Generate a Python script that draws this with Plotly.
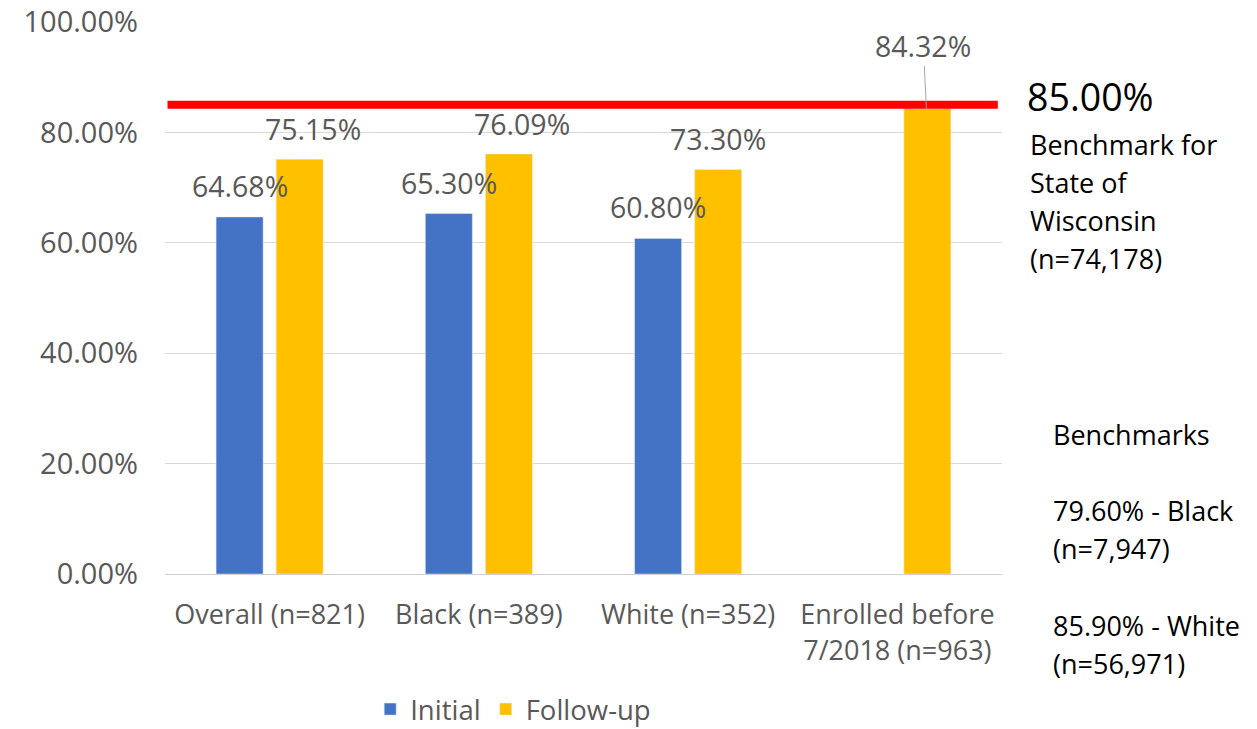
import plotly.graph_objects as go

# Categories and series values (percent)
categories = ["Overall (n=821)", "Black (n=389)", "White (n=352)", "Enrolled before<br>7/2018 (n=963)"]
initial = [64.68, 65.30, 60.80, None]
follow_up = [75.15, 76.09, 73.30, 84.32]
state_benchmark = 85.00
y_ticks = [0, 20, 40, 60, 80, 100]
y_tick_labels = ["0.00%", "20.00%", "40.00%", "60.00%", "80.00%", "100.00%"]

side_title = ["Benchmark for", "State of", "Wisconsin", "(n=74,178)"]
side_notes = ["Benchmarks", "", "79.60% - Black", "(n=7,947)", "", "85.90% - White", "(n=56,971)"]

FONT = "Open Sans"
GRAY = "#595959"
BLUE = "#4472C4"
GOLD = "#FFC000"

fig = go.Figure()
fig.add_trace(go.Bar(name="Initial", x=categories, y=initial, marker_color=BLUE))
fig.add_trace(go.Bar(name="Follow-up", x=categories, y=follow_up, marker_color=GOLD))

# Value labels above the bars (custom offsets per label)
blue_dx = [0, 0, 0]
gold_dx = [13, 13, 0]
for i, v in enumerate(initial):
    if v is None:
        continue
    fig.add_annotation(x=categories[i], y=v, text=f"{v:.2f}%", showarrow=False,
                       xshift=-30 + blue_dx[i], yshift=31,
                       font=dict(family=FONT, size=28.5, color=GRAY))
for i, v in enumerate(follow_up):
    if i == 3:
        fig.add_annotation(x=categories[i], y=v, text=f"{v:.2f}%", showarrow=True,
                           arrowhead=0, arrowwidth=1, arrowcolor="#a6a6a6",
                           xshift=29, ax=-3, ay=-63,
                           font=dict(family=FONT, size=28.5, color=GRAY))
        continue
    fig.add_annotation(x=categories[i], y=v, text=f"{v:.2f}%", showarrow=False,
                       xshift=30 + gold_dx[i], yshift=30,
                       font=dict(family=FONT, size=28.5, color=GRAY))

# State benchmark line
fig.add_shape(type="line", xref="paper", yref="y", x0=0.003, x1=0.995,
              y0=state_benchmark, y1=state_benchmark,
              line=dict(color="#FF0000", width=8))

# Benchmark text on the right
fig.add_annotation(xref="paper", yref="paper", x=1.028, y=(574 - 96) / 552,
                   xanchor="left", yanchor="middle", showarrow=False,
                   text=f"{state_benchmark:.2f}%",
                   font=dict(family=FONT, size=37.5, color="black"))
for k, line in enumerate(side_title):
    fig.add_annotation(xref="paper", yref="paper", x=1.031, y=(574 - 144 - 38.2 * k) / 552,
                       xanchor="left", yanchor="middle", showarrow=False, text=line,
                       font=dict(family=FONT, size=27, color="black"))
for k, line in enumerate(side_notes):
    if not line:
        continue
    fig.add_annotation(xref="paper", yref="paper", x=1.059, y=(574 - 434 - 38.2 * k) / 552,
                       xanchor="left", yanchor="middle", showarrow=False, text=line,
                       font=dict(family=FONT, size=27, color="black"))

fig.update_layout(
    width=1257, height=729,
    margin=dict(l=165, r=255, t=22, b=155, autoexpand=False),
    paper_bgcolor="white", plot_bgcolor="white",
    barmode="group", bargap=0.426, bargroupgap=0.217,
    font=dict(family=FONT, color=GRAY),
    showlegend=True,
    legend=dict(orientation="h", x=0.416, xanchor="center", y=-0.245, yanchor="middle",
                font=dict(family=FONT, size=27.5, color=GRAY), itemwidth=30),
)
fig.update_yaxes(range=[0, 100], tickvals=y_ticks, ticktext=y_tick_labels,
                 showgrid=True, gridcolor="#d9d9d9", gridwidth=1, automargin=False,
                 zeroline=False, showline=False, ticks="", ticklabelstandoff=26,
                 tickfont=dict(family=FONT, size=29, color=GRAY))
fig.update_xaxes(showgrid=False, showline=True, linecolor="#d0d0d0", linewidth=1,
                 ticks="", ticklabelstandoff=17, automargin=False,
                 tickfont=dict(family=FONT, size=27, color=GRAY))

fig.write_html("out.html")
